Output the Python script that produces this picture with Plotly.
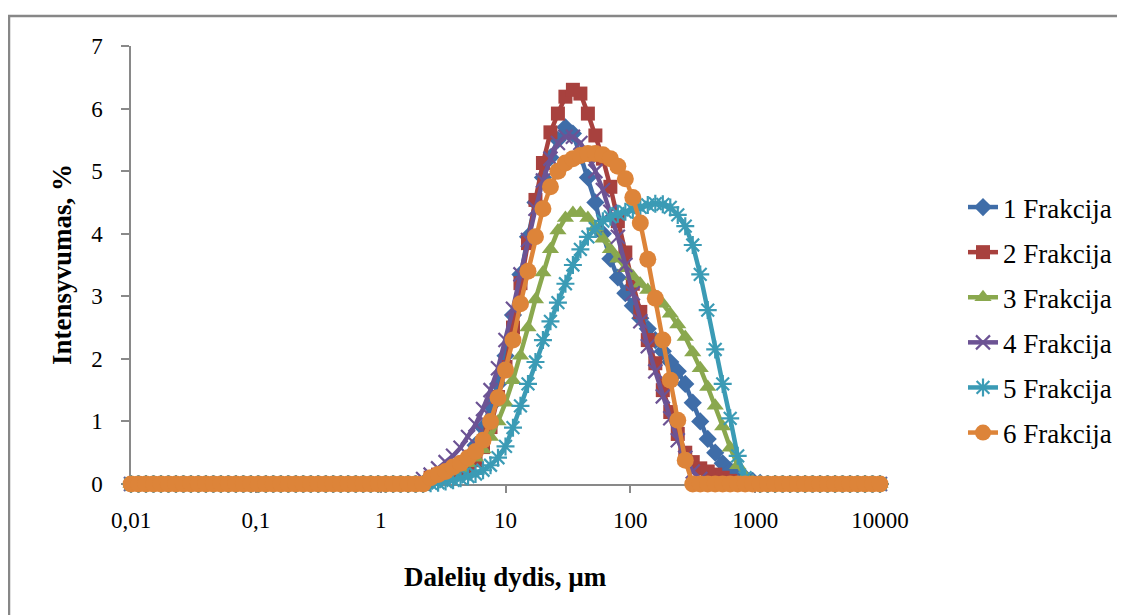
import plotly.graph_objects as go

# particle size classes (µm)
sizes = [
    0.01, 0.01148, 0.01318, 0.01514, 0.01738, 0.01995, 0.02291, 0.0263, 0.0302, 0.03467,
    0.03981, 0.04571, 0.05248, 0.06026, 0.06918, 0.07943, 0.0912, 0.1047, 0.1202, 0.138,
    0.1585, 0.182, 0.2089, 0.2399, 0.2754, 0.3162, 0.3631, 0.4169, 0.4786, 0.5495,
    0.631, 0.7244, 0.8318, 0.955, 1.096, 1.259, 1.445, 1.66, 1.905, 2.188,
    2.512, 2.884, 3.311, 3.802, 4.365, 5.012, 5.754, 6.607, 7.586, 8.71,
    10, 11.48, 13.18, 15.14, 17.38, 19.95, 22.91, 26.3, 30.2, 34.67,
    39.81, 45.71, 52.48, 60.26, 69.18, 79.43, 91.2, 104.7, 120.2, 138,
    158.5, 182, 208.9, 239.9, 275.4, 316.2, 363.1, 416.9, 478.6, 549.5,
    631, 724.4, 831.8, 955, 1096, 1259, 1445, 1660, 1905, 2188,
    2512, 2884, 3311, 3802, 4365, 5012, 5754, 6607, 7586, 8710,
    10000,
]

frakcija_1 = [
    0, 0, 0, 0, 0, 0, 0, 0, 0, 0,
    0, 0, 0, 0, 0, 0, 0, 0, 0, 0,
    0, 0, 0, 0, 0, 0, 0, 0, 0, 0,
    0, 0, 0, 0, 0, 0, 0, 0, 0, 0,
    0.05, 0.1, 0.16, 0.22, 0.3, 0.42, 0.62, 0.9, 1.25, 1.6,
    2.05, 2.7, 3.35, 3.95, 4.5, 4.9, 5.22, 5.5, 5.7, 5.6,
    5.25, 4.9, 4.5, 4.0, 3.6, 3.3, 3.05, 2.85, 2.65, 2.48,
    2.3, 2.12, 1.95, 1.8, 1.6, 1.3, 1.0, 0.72, 0.5, 0.33,
    0.22, 0.15, 0.1, 0.05, 0.02, 0, 0, 0, 0, 0,
    0, 0, 0, 0, 0, 0, 0, 0, 0, 0,
    0,
]

frakcija_2 = [
    0, 0, 0, 0, 0, 0, 0, 0, 0, 0,
    0, 0, 0, 0, 0, 0, 0, 0, 0, 0,
    0, 0, 0, 0, 0, 0, 0, 0, 0, 0,
    0, 0, 0, 0, 0, 0, 0, 0, 0, 0,
    0.1, 0.15, 0.18, 0.2, 0.22, 0.27, 0.38, 0.59, 0.91, 1.39,
    1.87, 2.5, 3.21, 3.85, 4.54, 5.13, 5.62, 5.92, 6.19, 6.3,
    6.24, 5.92, 5.57, 5.2, 4.75, 4.2, 3.7, 3.2, 2.75, 2.3,
    1.93, 1.5, 1.15, 0.8, 0.5, 0.35, 0.25, 0.2, 0.15, 0.1,
    0.05, 0, 0, 0, 0, 0, 0, 0, 0, 0,
    0, 0, 0, 0, 0, 0, 0, 0, 0, 0,
    0,
]

frakcija_3 = [
    0, 0, 0, 0, 0, 0, 0, 0, 0, 0,
    0, 0, 0, 0, 0, 0, 0, 0, 0, 0,
    0, 0, 0, 0, 0, 0, 0, 0, 0, 0,
    0, 0, 0, 0, 0, 0, 0, 0, 0, 0,
    0.05, 0.1, 0.15, 0.2, 0.25, 0.33, 0.42, 0.55, 0.75, 1.0,
    1.3, 1.66, 2.05, 2.5, 2.95, 3.38, 3.75, 4.05, 4.25, 4.33,
    4.33, 4.25, 4.1, 3.92, 3.75, 3.6, 3.45, 3.32, 3.2, 3.1,
    3.0, 2.88, 2.72, 2.55, 2.35, 2.1, 1.85, 1.55, 1.25, 0.92,
    0.58, 0.3, 0.12, 0.04, 0, 0, 0, 0, 0, 0,
    0, 0, 0, 0, 0, 0, 0, 0, 0, 0,
    0,
]

frakcija_4 = [
    0, 0, 0, 0, 0, 0, 0, 0, 0, 0,
    0, 0, 0, 0, 0, 0, 0, 0, 0, 0,
    0, 0, 0, 0, 0, 0, 0, 0, 0, 0,
    0, 0, 0, 0, 0, 0, 0, 0, 0, 0.08,
    0.15, 0.25, 0.35, 0.45, 0.58, 0.75, 0.95, 1.2, 1.5, 1.85,
    2.3, 2.8, 3.35, 3.9, 4.4, 4.85, 5.2, 5.45, 5.55, 5.55,
    5.45, 5.25, 5.0, 4.7, 4.35, 3.95, 3.5, 3.05, 2.6, 2.2,
    1.8, 1.4, 1.05, 0.7, 0.42, 0.2, 0.08, 0, 0, 0,
    0, 0, 0, 0, 0, 0, 0, 0, 0, 0,
    0, 0, 0, 0, 0, 0, 0, 0, 0, 0,
    0,
]

frakcija_5 = [
    0, 0, 0, 0, 0, 0, 0, 0, 0, 0,
    0, 0, 0, 0, 0, 0, 0, 0, 0, 0,
    0, 0, 0, 0, 0, 0, 0, 0, 0, 0,
    0, 0, 0, 0, 0, 0, 0, 0, 0, 0,
    0.01, 0.02, 0.04, 0.06, 0.09, 0.12, 0.16, 0.22, 0.3, 0.42,
    0.6, 0.9, 1.25, 1.6, 1.95, 2.3, 2.6, 2.9, 3.2, 3.5,
    3.75, 3.95, 4.08, 4.2, 4.27, 4.32, 4.35, 4.38, 4.42, 4.46,
    4.48, 4.47, 4.42, 4.3, 4.12, 3.82, 3.35, 2.78, 2.15, 1.6,
    1.05, 0.45, 0.1, 0.02, 0, 0, 0, 0, 0, 0,
    0, 0, 0, 0, 0, 0, 0, 0, 0, 0,
    0,
]

frakcija_6 = [
    0, 0, 0, 0, 0, 0, 0, 0, 0, 0,
    0, 0, 0, 0, 0, 0, 0, 0, 0, 0,
    0, 0, 0, 0, 0, 0, 0, 0, 0, 0,
    0, 0, 0, 0, 0, 0, 0, 0, 0, 0,
    0.1, 0.15, 0.2, 0.27, 0.33, 0.42, 0.52, 0.7, 1.0, 1.38,
    1.82, 2.3, 2.88, 3.4, 3.95, 4.4, 4.75, 5.0, 5.13, 5.2,
    5.25, 5.28, 5.28, 5.26, 5.2, 5.08, 4.88, 4.58, 4.17, 3.59,
    2.97, 2.3, 1.66, 1.02, 0.38, 0, 0, 0, 0, 0,
    0, 0, 0, 0, 0, 0, 0, 0, 0, 0,
    0, 0, 0, 0, 0, 0, 0, 0, 0, 0,
    0,
]

series_names = ["1 Frakcija", "2 Frakcija", "3 Frakcija", "4 Frakcija", "5 Frakcija", "6 Frakcija"]
series_values = [frakcija_1, frakcija_2, frakcija_3, frakcija_4, frakcija_5, frakcija_6]

x_tick_vals = [0.01, 0.1, 1, 10, 100, 1000, 10000]
x_tick_text = ["0,01", "0,1", "1", "10", "100", "1000", "10000"]
y_tick_vals = [0, 1, 2, 3, 4, 5, 6, 7]

colors = ["#3F6DA8", "#A8413E", "#8AA84E", "#6C5394", "#3B9BB5", "#DD8439"]
symbols = ["diamond", "square", "triangle-up", "x-thin-open", "asterisk-open", "circle"]
msizes = [14, 14, 15, 14, 15, 17]

FONT = "Liberation Serif, Times New Roman, serif"
AXIS_GRAY = "#898989"

fig = go.Figure()
for i, (name, vals) in enumerate(zip(series_names, series_values)):
    c = colors[i]
    sym = symbols[i]
    open_sym = sym.endswith("open")
    fig.add_trace(go.Scatter(
        x=sizes, y=vals, name=name, mode="lines+markers",
        legendgroup=name,
        cliponaxis=False,
        line=dict(color=c, width=4.5),
        marker=dict(symbol=sym, size=msizes[i], color=c,
                    line=dict(color=c, width=2.2 if open_sym else 0)),
    ))

# page body has an 8px margin: work in figure coordinates
W, H = 1125, 615
OFF = 8
L, R, T, B = 131 - OFF, 880 - OFF, 46 - OFF, 484 - OFF
pw, ph = R - L, B - T

def px(xw):
    return (xw - OFF - L) / pw

def py(yw):
    return (B - (yw - OFF)) / ph

fig.update_layout(
    width=W, height=H,
    margin=dict(l=L, r=W - R, t=T, b=H - B),
    paper_bgcolor="white", plot_bgcolor="white",
    font=dict(family=FONT, size=24, color="black"),
    showlegend=True,
    legend=dict(
        x=px(963), y=py(183), xanchor="left", yanchor="top",
        font=dict(family=FONT, size=27, color="black"),
        tracegroupgap=7, bgcolor="rgba(0,0,0,0)",
    ),
    xaxis=dict(
        type="log", range=[-2, 4],
        tickvals=x_tick_vals, ticktext=x_tick_text,
        showgrid=False, zeroline=False,
        showline=True, linecolor=AXIS_GRAY, linewidth=1.5,
        ticks="outside", ticklen=7, tickcolor=AXIS_GRAY, tickwidth=1.5,
        tickfont=dict(family=FONT, size=23, color="black"),
        ticklabelstandoff=8,
        layer="below traces",
    ),
    yaxis=dict(
        range=[0, 7], tickvals=y_tick_vals,
        showgrid=False, zeroline=False,
        showline=True, linecolor=AXIS_GRAY, linewidth=1.5,
        ticks="outside", ticklen=8, tickcolor=AXIS_GRAY, tickwidth=1.5,
        tickfont=dict(family=FONT, size=23, color="black"),
        ticklabelstandoff=14,
        layer="below traces",
    ),
    annotations=[
        dict(text="<b>Dalelių dydis, µm</b>", xref="paper", yref="paper",
             x=0.5, y=py(577), xanchor="center", yanchor="middle", showarrow=False,
             font=dict(family=FONT, size=27, color="black")),
        dict(text="<b>Intensyvumas, %</b>", xref="paper", yref="paper",
             x=px(62), y=0.5, xanchor="center", yanchor="middle", showarrow=False,
             textangle=-90, font=dict(family=FONT, size=27, color="black")),
    ],
    shapes=[
        dict(type="rect", xref="paper", yref="paper",
             x0=px(9), x1=px(1160), y0=py(16), y1=py(660),
             line=dict(color="#878787", width=2.5), fillcolor="rgba(0,0,0,0)", layer="below"),
    ],
)

fig.write_html("out.html")
